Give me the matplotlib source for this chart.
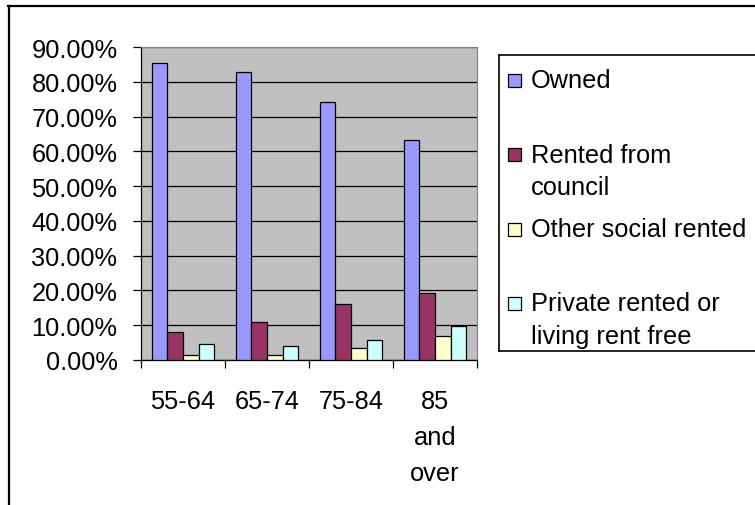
import numpy as np
import matplotlib.pyplot as plt
from matplotlib.ticker import PercentFormatter
from matplotlib.lines import Line2D
from matplotlib.patches import Rectangle

plt.rcParams['font.family'] = ['Liberation Sans', 'DejaVu Sans']

categories = ['55-64', '65-74', '75-84', '85\nand\nover']
series = ['Owned', 'Rented from\ncouncil', 'Other social rented', 'Private rented or\nliving rent free']
owned = [0.853, 0.829, 0.743, 0.633]
council = [0.080, 0.108, 0.160, 0.194]
other_social = [0.015, 0.015, 0.034, 0.068]
private = [0.046, 0.039, 0.057, 0.098]
colors = ['#9999FF', '#993366', '#FFFFCC', '#CCFFFF']

W, H = 755, 506
fs = 18.3
fig = plt.figure(figsize=(W / 100, H / 100), dpi=100)
ax = fig.add_axes([141 / W, 1 - 361 / H, 336 / W, 313 / H])
ax.set_facecolor('#C0C0C0')

x = np.arange(len(categories))
bw = 0.185
values = [owned, council, other_social, private]
for i, vals in enumerate(values):
    ax.bar(x + (i - 1.5) * bw, vals, bw, color=colors[i], edgecolor='black',
           linewidth=0.9, zorder=3)

ax.set_xlim(-0.5, 3.5)
ax.set_ylim(0, 0.9)
ax.set_yticks(np.arange(0, 0.91, 0.1))
ax.yaxis.set_major_formatter(PercentFormatter(xmax=1, decimals=2))
ax.grid(axis='y', color='black', linewidth=0.9, zorder=1)
ax.tick_params(axis='y', length=6, width=0.9, pad=11, labelsize=fs, direction='out')

ax.set_xticks(x)
ax.set_xticklabels(categories, linespacing=1.62)
ax.set_xticks(np.arange(-0.5, 4, 1), minor=True)
ax.tick_params(axis='x', which='major', length=0, pad=21, labelsize=fs)
ax.tick_params(axis='x', which='minor', length=6, width=0.9)

for s in ['top', 'right']:
    ax.spines[s].set_color('#808080')
for s in ['left', 'bottom']:
    ax.spines[s].set_color('black')
    ax.spines[s].set_linewidth(0.9)

# outer chart border (cut off on right and bottom)
fig.add_artist(Line2D([8.5 / W, 8.5 / W], [0, 1 - 7 / H], color='black', lw=1.6,
                      transform=fig.transFigure))
fig.add_artist(Line2D([8 / W, 1], [1 - 7 / H, 1 - 7 / H], color='black', lw=1.6,
                      transform=fig.transFigure))

# legend box
lx, ltop, lbot = 498.5 / W, 1 - 56 / H, 1 - 352 / H
fig.add_artist(Line2D([lx, lx], [lbot, ltop], color='black', lw=1.2, transform=fig.transFigure))
fig.add_artist(Line2D([lx, 1], [ltop, ltop], color='black', lw=1.2, transform=fig.transFigure))
fig.add_artist(Line2D([lx, 1], [lbot, lbot], color='black', lw=1.2, transform=fig.transFigure))

for i, label in enumerate(series):
    base = 88 + 74.3 * i
    fig.add_artist(Rectangle((508 / W, 1 - base / H), 13 / W, 13 / H,
                             facecolor=colors[i], edgecolor='black', lw=0.9,
                             transform=fig.transFigure))
    fig.text(531 / W, 1 - (base - 18.5) / H, label, fontsize=fs, va='top', ha='left',
             linespacing=1.45)

fig.savefig('out.png', dpi=100)
